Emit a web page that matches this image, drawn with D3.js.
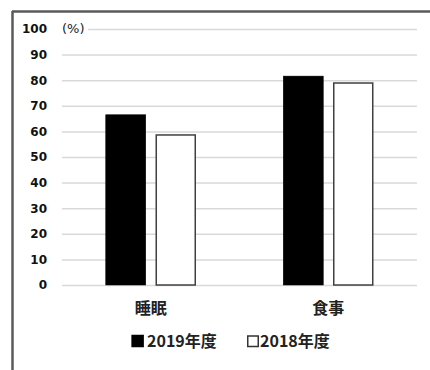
<!DOCTYPE html>
<html>
<head>
<meta charset="utf-8">
<script src="https://cdn.jsdelivr.net/npm/d3@7"></script>
<style>
  html, body { margin: 0; padding: 0; background: #fff; }
  svg { display: block; }
</style>
</head>
<body>
<svg id="chart" width="430" height="370"></svg>
<script>
// Categories, series and tick labels
const categories = ["睡眠", "食事"];
const seriesNames = ["2019年度", "2018年度"];
const values2019 = [66.5, 81.6];
const values2018 = [58.6, 78.9];
const yTicks = [0, 10, 20, 30, 40, 50, 60, 70, 80, 90, 100];
const unitLabel = "(%)";

const seriesValues = [values2019, values2018];
const seriesFill = ["#000000", "#ffffff"];

const svg = d3.select("#chart");
const W = 430, H = 370;

// Outer frame (top and left edges visible)
svg.append("line").attr("x1", 12).attr("x2", W).attr("y1", 11.5).attr("y2", 11.5)
  .attr("stroke", "#5a5a5a").attr("stroke-width", 2.5);
svg.append("line").attr("x1", 12.5).attr("x2", 12.5).attr("y1", 11).attr("y2", H)
  .attr("stroke", "#5a5a5a").attr("stroke-width", 2.5);

const plot = { left: 62, right: 417, top: 29, bottom: 285 };

const x = d3.scaleBand().domain(categories).range([plot.left, plot.right]);
const y = d3.scaleLinear().domain([0, 100]).range([plot.bottom, plot.top]);
const xs = d3.scaleBand().domain(d3.range(seriesNames.length))
  .range([0, 90]).paddingInner(0.2);

// Gridlines
const yAxis = d3.axisLeft(y).tickValues(yTicks)
  .tickSize(-(plot.right - plot.left)).tickPadding(15).tickFormat(d3.format("d"));
const gy = svg.append("g").attr("transform", `translate(${plot.left},0)`).call(yAxis);
gy.select(".domain").remove();
gy.selectAll(".tick line").attr("stroke", "#d9d9d9").attr("stroke-width", 1.5);
gy.selectAll(".tick text")
  .attr("font-family", "'DejaVu Sans', sans-serif")
  .attr("font-weight", "bold").attr("font-size", 12).attr("fill", "#111");

// Unit label sits over the top gridline
const unit = svg.append("g");
unit.append("rect").attr("x", plot.left - 1).attr("y", y(100) - 8)
  .attr("width", 27).attr("height", 16).attr("fill", "#fff");
unit.append("text").attr("x", plot.left).attr("y", y(100)).attr("dy", "0.3em")
  .attr("font-family", "'DejaVu Sans', sans-serif").attr("font-size", 13)
  .attr("fill", "#222").text(unitLabel);

// Bars
seriesValues.forEach((vals, si) => {
  svg.append("g").selectAll("rect").data(vals).join("rect")
    .attr("x", (d, i) => x(categories[i]) + x.bandwidth() / 2 - 45 + xs(si) + (si ? 0.5 : 0))
    .attr("y", d => y(d))
    .attr("width", xs.bandwidth() - (si ? 1 : 0))
    .attr("height", d => y(0) - y(d))
    .attr("fill", seriesFill[si])
    .attr("stroke", si ? "#404040" : "#000")
    .attr("stroke-width", si ? 1.5 : 0.5);
});

// Category labels
const xAxis = d3.axisBottom(x).tickSize(0).tickPadding(18);
const gx = svg.append("g").attr("transform", `translate(0,${plot.bottom})`).call(xAxis);
gx.select(".domain").remove();
gx.selectAll(".tick text")
  .attr("font-family", "'Noto Sans CJK JP', sans-serif")
  .attr("font-weight", "bold").attr("font-size", 16).attr("fill", "#222");

// Legend
const legendX = [131, 247];
const legend = svg.append("g");
seriesNames.forEach((name, si) => {
  const g = legend.append("g").attr("transform", `translate(${legendX[si]},341)`);
  g.append("rect").attr("x", 0.75).attr("y", -5.5).attr("width", si ? 10.5 : 12).attr("height", si ? 10.5 : 12)
    .attr("transform", si ? "translate(0,0.5)" : "translate(0,-0.5)")
    .attr("fill", seriesFill[si]).attr("stroke", si ? "#333" : "#000").attr("stroke-width", si ? 1.5 : 0.5);
  g.append("text").attr("x", si ? 13 : 16).attr("y", 0).attr("dy", "0.36em")
    .attr("font-family", "'Noto Sans CJK JP', sans-serif")
    .attr("font-weight", "bold").attr("font-size", 16).attr("fill", "#222")
    .text(name);
});
</script>
</body>
</html>
